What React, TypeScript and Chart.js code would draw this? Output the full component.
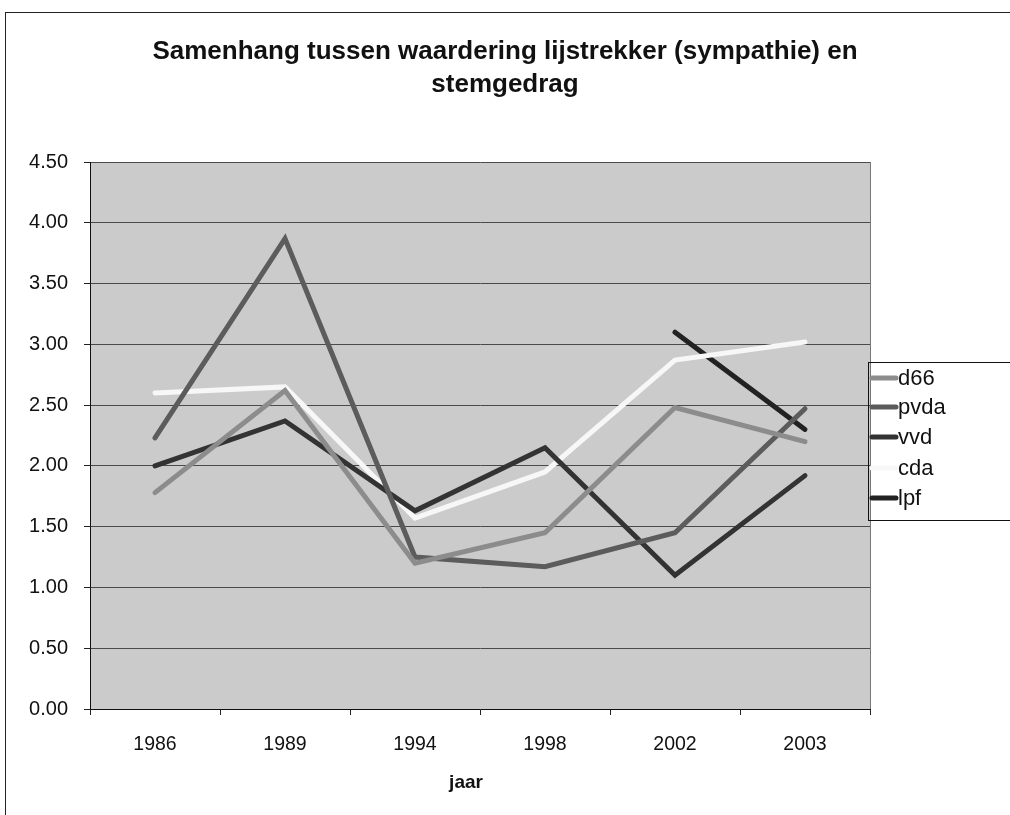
import React, { useEffect, useRef } from "react";
import { Chart, registerables } from "chart.js";

Chart.register(...registerables);

const years = ["1986", "1989", "1994", "1998", "2002", "2003"];
const d66 = [1.78, 2.62, 1.2, 1.45, 2.48, 2.2];
const pvda = [2.23, 3.87, 1.25, 1.17, 1.45, 2.47];
const vvd = [2.0, 2.37, 1.63, 2.15, 1.1, 1.92];
const cda = [2.6, 2.65, 1.57, 1.95, 2.87, 3.02];
const lpf = [null, null, null, null, 3.1, 2.3];
const titleLines = ["Samenhang tussen waardering lijstrekker (sympathie) en", "stemgedrag"];
const xTitle = "jaar";

const FONT = "'Liberation Sans', Arial, sans-serif";

const decorPlugin = {
  id: "decor",
  beforeDraw(chart: any) {
    const { ctx, chartArea } = chart;
    ctx.save();
    ctx.fillStyle = "#ffffff";
    ctx.fillRect(0, 0, chart.width, chart.height);
    ctx.fillStyle = "#cbcbcb";
    ctx.fillRect(chartArea.left, chartArea.top, chartArea.right - chartArea.left, chartArea.bottom - chartArea.top);
    ctx.strokeStyle = "#222";
    ctx.lineWidth = 1;
    ctx.strokeRect(5.5, 12.5, chart.width + 20, chart.height + 20);
    ctx.restore();
  },
  afterDraw(chart: any) {
    const { ctx, chartArea } = chart;
    ctx.save();
    ctx.strokeStyle = "#777";
    ctx.lineWidth = 1;
    ctx.beginPath();
    ctx.moveTo(chartArea.right + 0.5, chartArea.top);
    ctx.lineTo(chartArea.right + 0.5, chartArea.bottom);
    ctx.stroke();
    // title
    ctx.fillStyle = "#111";
    ctx.textAlign = "center";
    ctx.textBaseline = "middle";
    ctx.font = "bold 26px " + FONT;
    ctx.fillText(titleLines[0], 505, 52);
    ctx.fillText(titleLines[1], 505, 85);
    // x title
    ctx.font = "bold 19px " + FONT;
    ctx.fillText(xTitle, 466, 783);
    // legend
    const lx = 868, ly = 362, lw = 160, lh = 158;
    ctx.strokeStyle = "#111";
    ctx.lineWidth = 1;
    ctx.strokeRect(lx + 0.5, ly + 0.5, lw, lh);
    const ys = [378, 407, 437, 468, 498];
    ctx.font = "22px " + FONT;
    ctx.textAlign = "left";
    chart.data.datasets.forEach((ds: any, i: number) => {
      const y = ys[i];
      ctx.strokeStyle = ds.borderColor;
      ctx.lineWidth = 5;
      ctx.lineCap = "round";
      ctx.beginPath();
      ctx.moveTo(872, y);
      ctx.lineTo(896, y);
      ctx.stroke();
      ctx.fillStyle = "#111";
      ctx.fillText(ds.label, 898, y + 1);
    });
    ctx.restore();
  },
};

export default function App() {
  const ref = useRef<HTMLCanvasElement>(null);
  useEffect(() => {
    if (!ref.current) return;
    const mk = (label: string, data: any[], color: string) => ({
      label,
      data,
      borderColor: color,
      backgroundColor: color,
      borderWidth: 5,
      pointRadius: 0,
      tension: 0,
      borderCapStyle: "round",
      borderJoinStyle: "miter",
      spanGaps: false,
    });
    const chart = new Chart(ref.current, {
      type: "line",
      data: {
        labels: years,
        datasets: [
          mk("d66", d66, "#8c8c8c"),
          mk("pvda", pvda, "#5c5c5c"),
          mk("vvd", vvd, "#333333"),
          mk("cda", cda, "#f7f7f7"),
          mk("lpf", lpf, "#222222"),
        ] as any,
      },
      options: {
        animation: false,
        responsive: false,
        layout: { padding: { top: 162, left: 0, right: 140, bottom: 0 } },
        plugins: { legend: { display: false }, title: { display: false }, tooltip: { enabled: false } },
        scales: {
          x: {
            offset: true,
            grid: { offset: true, drawOnChartArea: false, drawTicks: true, tickLength: 6, color: "#222" },
            border: { display: true, color: "#111", width: 1 },
            ticks: { color: "#111", font: { family: FONT, size: 19.5 }, padding: 18, maxRotation: 0 },
            afterFit: (s: any) => { s.height = 106; },
          },
          y: {
            min: 0,
            max: 4.5,
            ticks: {
              stepSize: 0.5,
              color: "#111",
              font: { family: FONT, size: 20 },
              padding: 16,
              callback: (v: any) => Number(v).toFixed(2),
            },
            grid: { color: "#4a4a4a", lineWidth: 1, tickLength: 6, drawTicks: true, tickColor: "#222" },
            border: { display: true, color: "#111", width: 1 },
            afterFit: (s: any) => { s.width = 90; },
          },
        },
      },
      plugins: [decorPlugin],
    });
    return () => chart.destroy();
  }, []);
  return (
    <div style={{ position: "fixed", left: 0, top: 0, width: 1010, height: 815, background: "#fff" }}>
      <canvas ref={ref} width={1010} height={815} />
    </div>
  );
}
